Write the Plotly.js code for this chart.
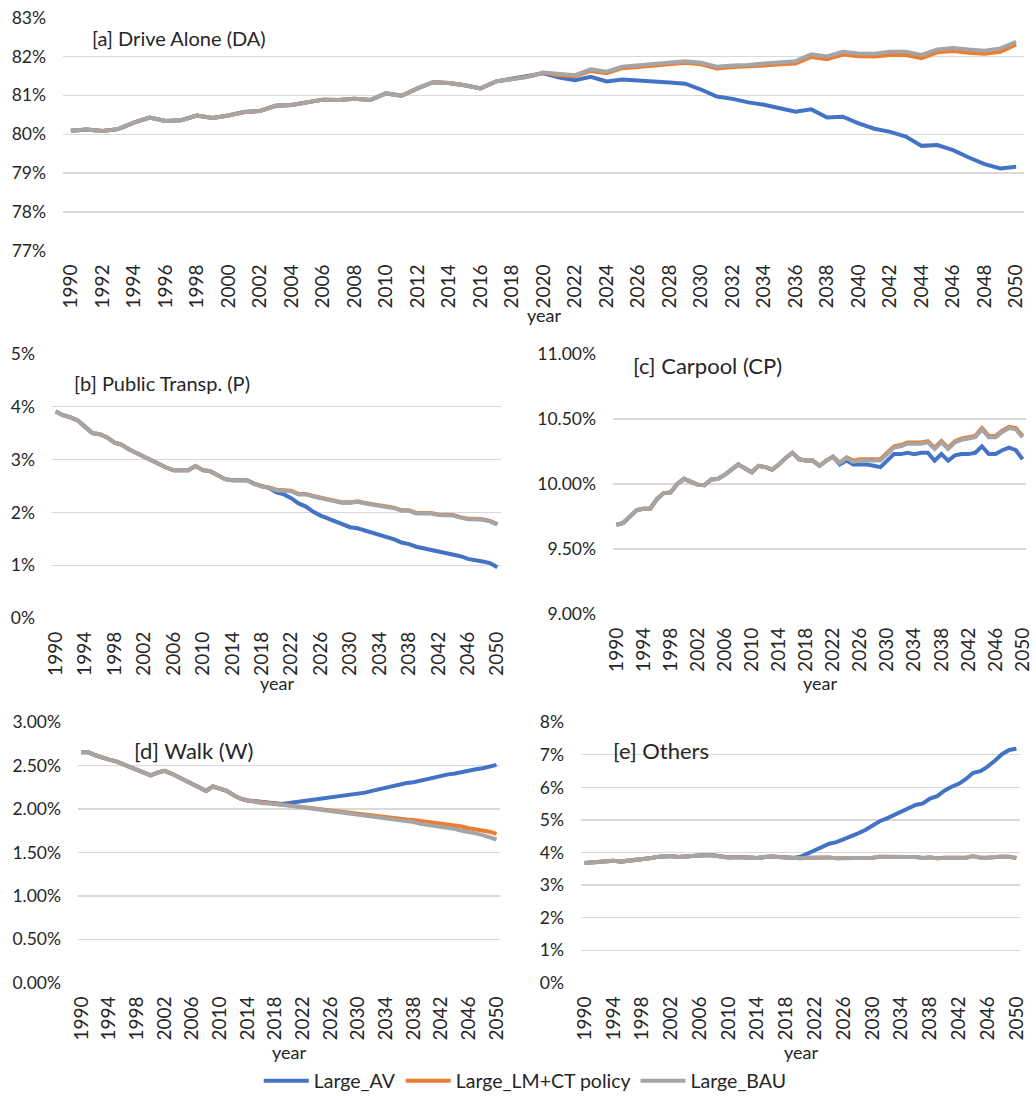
<!DOCTYPE html>
<html>
<head>
<meta charset="utf-8">
<script src="https://cdn.plot.ly/plotly-3.0.1.min.js"></script>
<style>
html,body{margin:0;padding:0;background:#fff;}
#chart{width:1036px;height:1096px;}
</style>
</head>
<body>
<div id="chart"></div>
<script>
// ---------- DATA ----------
const years = [1990,1991,1992,1993,1994,1995,1996,1997,1998,1999,
  2000,2001,2002,2003,2004,2005,2006,2007,2008,2009,
  2010,2011,2012,2013,2014,2015,2016,2017,2018,2019,
  2020,2021,2022,2023,2024,2025,2026,2027,2028,2029,
  2030,2031,2032,2033,2034,2035,2036,2037,2038,2039,
  2040,2041,2042,2043,2044,2045,2046,2047,2048,2049,2050];

const seriesNames = ["Large_AV", "Large_LM+CT policy", "Large_BAU"];

// [a] Drive Alone (%)
const daBAU = [80.09,80.12,80.08,80.13,80.30,80.43,80.34,80.36,80.48,80.42,
  80.48,80.57,80.60,80.73,80.75,80.83,80.89,80.88,80.91,80.88,
  81.05,80.99,81.18,81.34,81.32,81.26,81.18,81.36,81.43,81.48,
  81.59,81.55,81.52,81.67,81.61,81.74,81.77,81.81,81.84,81.88,
  81.84,81.74,81.77,81.78,81.82,81.85,81.88,82.06,82.00,82.12,
  82.08,82.07,82.12,82.12,82.04,82.18,82.22,82.18,82.15,82.21,82.38];
const daLM = [80.09,80.12,80.08,80.13,80.30,80.43,80.34,80.36,80.48,80.42,
  80.48,80.57,80.60,80.73,80.75,80.83,80.89,80.88,80.91,80.88,
  81.05,80.99,81.18,81.34,81.32,81.26,81.18,81.36,81.43,81.48,
  81.58,81.52,81.49,81.63,81.57,81.70,81.73,81.77,81.80,81.84,
  81.80,81.69,81.73,81.74,81.77,81.80,81.82,81.99,81.93,82.05,
  82.01,82.00,82.04,82.04,81.96,82.11,82.14,82.10,82.07,82.12,82.31];
const daAV = [80.09,80.12,80.08,80.13,80.30,80.43,80.34,80.36,80.48,80.42,
  80.48,80.57,80.60,80.73,80.75,80.83,80.89,80.88,80.91,80.88,
  81.05,80.99,81.18,81.34,81.32,81.26,81.18,81.36,81.43,81.48,
  81.57,81.46,81.39,81.48,81.36,81.41,81.39,81.37,81.33,81.30,
  81.15,80.97,80.91,80.82,80.76,80.67,80.58,80.64,80.43,80.45,
  80.28,80.14,80.06,79.94,79.70,79.72,79.59,79.40,79.23,79.12,79.16];

// [b] Public Transp. (%)
const ptBAU = [3.91,3.84,3.80,3.74,3.62,3.50,3.48,3.42,3.32,3.28,
  3.19,3.12,3.06,2.98,2.92,2.85,2.80,2.80,2.80,2.88,
  2.80,2.78,2.70,2.63,2.61,2.61,2.61,2.54,2.49,2.47,
  2.42,2.41,2.40,2.34,2.34,2.30,2.27,2.24,2.22,2.18,
  2.18,2.20,2.17,2.15,2.13,2.11,2.08,2.03,2.03,1.98,
  1.98,1.98,1.95,1.94,1.94,1.90,1.87,1.87,1.86,1.83,1.77];
const ptLM = [3.91,3.84,3.80,3.74,3.62,3.50,3.48,3.42,3.32,3.28,
  3.19,3.12,3.06,2.98,2.92,2.85,2.80,2.80,2.80,2.88,
  2.80,2.78,2.70,2.63,2.61,2.61,2.61,2.54,2.49,2.47,
  2.43,2.42,2.41,2.35,2.35,2.31,2.28,2.25,2.23,2.19,
  2.19,2.21,2.18,2.16,2.14,2.12,2.09,2.04,2.04,1.99,
  1.99,1.99,1.96,1.95,1.95,1.91,1.88,1.88,1.87,1.84,1.78];
const ptAV = [3.91,3.84,3.80,3.74,3.62,3.50,3.48,3.42,3.32,3.28,
  3.19,3.12,3.06,2.98,2.92,2.85,2.80,2.80,2.80,2.88,
  2.80,2.78,2.70,2.63,2.61,2.61,2.61,2.54,2.49,2.46,
  2.38,2.34,2.27,2.17,2.11,2.01,1.94,1.88,1.82,1.76,
  1.72,1.70,1.66,1.62,1.57,1.53,1.49,1.43,1.40,1.35,
  1.32,1.29,1.26,1.22,1.19,1.17,1.12,1.10,1.07,1.04,0.96];

// [c] Carpool (%)
const cpBAU = [9.685,9.70,9.75,9.80,9.81,9.81,9.885,9.93,9.935,10.00,
  10.04,10.015,9.995,9.99,10.035,10.04,10.07,10.11,10.15,10.12,
  10.09,10.14,10.13,10.11,10.15,10.20,10.24,10.19,10.18,10.18,
  10.14,10.18,10.21,10.16,10.20,10.17,10.18,10.18,10.18,10.18,
  10.23,10.28,10.29,10.31,10.31,10.31,10.32,10.27,10.32,10.27,
  10.32,10.34,10.35,10.36,10.42,10.36,10.36,10.40,10.43,10.42,10.36];
const cpLM = [9.685,9.70,9.75,9.80,9.81,9.81,9.885,9.93,9.935,10.00,
  10.04,10.015,9.995,9.99,10.035,10.04,10.07,10.11,10.15,10.12,
  10.09,10.14,10.13,10.11,10.15,10.20,10.24,10.19,10.18,10.18,
  10.14,10.18,10.21,10.165,10.205,10.18,10.19,10.19,10.19,10.19,
  10.24,10.29,10.30,10.32,10.32,10.32,10.33,10.28,10.33,10.28,
  10.33,10.35,10.36,10.37,10.43,10.37,10.37,10.41,10.44,10.43,10.37];
const cpAV = [9.685,9.70,9.75,9.80,9.81,9.81,9.885,9.93,9.935,10.00,
  10.04,10.015,9.995,9.99,10.035,10.04,10.07,10.11,10.15,10.12,
  10.09,10.14,10.13,10.11,10.15,10.20,10.24,10.19,10.18,10.18,
  10.14,10.18,10.21,10.15,10.18,10.15,10.15,10.15,10.14,10.13,
  10.18,10.23,10.23,10.24,10.23,10.24,10.24,10.18,10.23,10.18,
  10.22,10.23,10.23,10.24,10.29,10.23,10.23,10.26,10.28,10.26,10.19];

// [d] Walk (%)
const wkBAU = [2.654,2.654,2.62,2.59,2.57,2.55,2.52,2.48,2.45,2.42,
  2.39,2.42,2.44,2.41,2.37,2.33,2.30,2.26,2.21,2.26,
  2.24,2.21,2.16,2.12,2.10,2.08,2.07,2.065,2.06,2.05,
  2.04,2.03,2.02,2.01,2.00,1.99,1.98,1.96,1.95,1.94,
  1.93,1.92,1.91,1.90,1.89,1.88,1.87,1.86,1.85,1.83,
  1.82,1.81,1.80,1.78,1.77,1.75,1.74,1.72,1.70,1.68,1.65];
const wkLM = [2.654,2.654,2.62,2.59,2.57,2.55,2.52,2.48,2.45,2.42,
  2.39,2.42,2.44,2.41,2.37,2.33,2.30,2.26,2.21,2.26,
  2.24,2.21,2.16,2.12,2.10,2.09,2.085,2.075,2.07,2.06,
  2.05,2.04,2.03,2.02,2.01,2.00,1.99,1.98,1.97,1.96,
  1.95,1.94,1.93,1.92,1.91,1.90,1.89,1.88,1.875,1.865,
  1.85,1.84,1.83,1.82,1.81,1.80,1.78,1.77,1.76,1.74,1.715];
const wkAV = [2.654,2.654,2.62,2.59,2.57,2.55,2.52,2.48,2.45,2.42,
  2.39,2.42,2.44,2.41,2.37,2.33,2.30,2.26,2.21,2.26,
  2.24,2.21,2.16,2.12,2.10,2.09,2.085,2.075,2.07,2.06,
  2.07,2.08,2.10,2.11,2.12,2.13,2.14,2.15,2.16,2.17,
  2.18,2.19,2.21,2.23,2.24,2.26,2.28,2.30,2.31,2.33,
  2.35,2.36,2.38,2.40,2.41,2.43,2.45,2.46,2.47,2.49,2.51];

// [e] Others (%)
const otBAU = [3.68,3.70,3.74,3.76,3.75,3.72,3.74,3.79,3.81,3.82,
  3.86,3.87,3.89,3.86,3.88,3.90,3.91,3.92,3.91,3.88,
  3.85,3.86,3.85,3.82,3.83,3.86,3.88,3.86,3.84,3.83,
  3.82,3.84,3.85,3.83,3.85,3.82,3.82,3.82,3.82,3.83,
  3.84,3.87,3.86,3.86,3.86,3.86,3.86,3.83,3.85,3.82,
  3.84,3.85,3.85,3.84,3.89,3.84,3.84,3.87,3.88,3.87,3.83];
const otLM = [3.68,3.70,3.74,3.76,3.75,3.72,3.74,3.79,3.81,3.82,
  3.86,3.87,3.89,3.86,3.88,3.90,3.91,3.92,3.91,3.88,
  3.85,3.86,3.85,3.82,3.83,3.86,3.88,3.86,3.84,3.83,
  3.82,3.84,3.85,3.83,3.85,3.82,3.82,3.82,3.82,3.83,
  3.84,3.87,3.86,3.86,3.86,3.86,3.86,3.83,3.85,3.82,
  3.84,3.85,3.85,3.84,3.89,3.84,3.84,3.87,3.88,3.87,3.83];
const otAV = [3.68,3.70,3.74,3.76,3.75,3.72,3.74,3.79,3.81,3.82,
  3.86,3.87,3.89,3.86,3.88,3.90,3.91,3.92,3.91,3.88,
  3.85,3.86,3.85,3.82,3.83,3.86,3.88,3.86,3.84,3.83,
  3.87,3.97,4.07,4.14,4.27,4.32,4.40,4.51,4.59,4.69,
  4.82,4.96,5.05,5.15,5.25,5.35,5.46,5.51,5.66,5.73,
  5.90,6.02,6.11,6.26,6.45,6.50,6.64,6.82,7.02,7.15,7.19];

const panelLabels = ["[a] Drive Alone (DA)", "[b] Public Transp. (P)", "[c] Carpool (CP)", "[d] Walk (W)", "[e] Others"];
const xTitle = "year";

// ---------- LAYOUT ----------
const W = 1036, H = 1096;
const colors = ["#4472C4", "#ED7D31", "#A5A5A5"];
const FONT = "Lato, 'Open Sans', sans-serif";
const TXT = "#262626";

const panels = [
  {id:"",  data:[daAV,daLM,daBAU], px:[63,1024],  py:[17.7,250.7], range:[77,83], dtick:1,   fmt:"d",   dx:2, ty:315,  lab:20},
  {id:"2", data:[ptAV,ptLM,ptBAU], px:[52,501],   py:[354,618],    range:[0,5],   dtick:1,   fmt:"d",   dx:4, ty:683,  lab:20},
  {id:"3", data:[cpAV,cpLM,cpBAU], px:[613,1026], py:[354,614],    range:[9,11],  dtick:0.5, fmt:".2f", dx:4, ty:683,  lab:22},
  {id:"4", data:[wkAV,wkLM,wkBAU], px:[78,500],   py:[722.3,982.7],range:[0,3],   dtick:0.5, fmt:".2f", dx:4, ty:1052, lab:22},
  {id:"5", data:[otAV,otLM,otBAU], px:[581,1020], py:[722.3,982.7],range:[0,8],   dtick:1,   fmt:"d",   dx:4, ty:1052, lab:22}
];
const labelPos = [[90,38],[72,383],[631,365],[132,750],[611,750]];

const traces = [];
const layout = {
  width: W, height: H,
  margin: {l:0, r:0, t:0, b:0, autoexpand:false},
  paper_bgcolor: "#fff", plot_bgcolor: "#fff",
  font: {family: FONT, size: 17, color: TXT},
  showlegend: true,
  legend: {orientation:"h", x:0.507, xanchor:"center", y:1-1081/H, yanchor:"middle",
           font:{size:19.5, color:TXT, family:FONT}, itemwidth:45, traceorder:"normal"},
  annotations: []
};

panels.forEach((p, i) => {
  const xa = "x" + p.id, ya = "y" + p.id;
  p.data.forEach((arr, k) => {
    traces.push({
      type:"scatter", mode:"lines", x: years, y: arr,
      xaxis: xa, yaxis: ya, name: seriesNames[k],
      legendgroup: seriesNames[k], showlegend: i === 0,
      line: {color: colors[k], width: 4},
      hoverinfo: "skip"
    });
  });
  layout["xaxis" + p.id] = {
    domain: [p.px[0]/W, p.px[1]/W], anchor: ya,
    range: [1989.5, 2050.5], tick0: 1990, dtick: p.dx,
    tickangle: -90, showgrid: false, zeroline: false, showline: false,
    ticks: "", ticklabelstandoff: 9,
    tickfont: {size: 19, color: TXT, family: FONT},
    fixedrange: true
  };
  layout["yaxis" + p.id] = {
    domain: [1 - p.py[1]/H, 1 - p.py[0]/H], anchor: xa,
    range: p.range, dtick: p.dtick, tick0: p.range[0],
    tickformat: p.fmt, ticksuffix: "%",
    showgrid: true, gridcolor: "#D9D9D9", gridwidth: 1.3,
    zeroline: false, showline: false, ticks: "", ticklabelstandoff: 16,
    tickfont: {size: 17.5, color: TXT, family: FONT},
    fixedrange: true
  };
  // panel label
  layout.annotations.push({
    xref: "paper", yref: "paper",
    x: labelPos[i][0]/W, y: 1 - labelPos[i][1]/H,
    xanchor: "left", yanchor: "middle", showarrow: false,
    text: panelLabels[i], font: {size: p.lab, color: TXT, family: FONT}
  });
  // x-axis title, centred under the plot area
  layout.annotations.push({
    xref: "x" + p.id + " domain", yref: "paper",
    x: 0.5, y: 1 - p.ty/H,
    xanchor: "center", yanchor: "middle", showarrow: false,
    text: xTitle, font: {size: 18, color: TXT, family: FONT}
  });
});

Plotly.newPlot("chart", traces, layout, {displayModeBar:false, staticPlot:true});
</script>
</body>
</html>
